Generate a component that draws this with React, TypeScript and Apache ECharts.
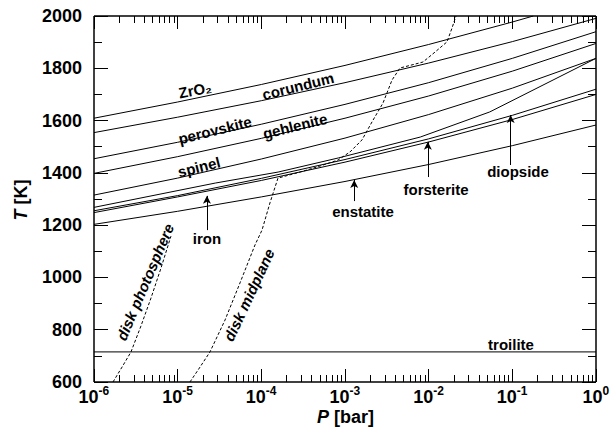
import { useEffect, useRef } from "react";
import * as echarts from "echarts";

const FONT = "'Liberation Sans', Arial, Helvetica, sans-serif";

// Decades of total pressure (bar) used as tick positions
const majorPressures = [1e-6, 1e-5, 1e-4, 1e-3, 1e-2, 1e-1, 1];
const minorMultipliers = [2, 3, 4, 5, 6, 7, 8, 9];
// Temperature ticks (K)
const majorTemps = [600, 800, 1000, 1200, 1400, 1600, 1800, 2000];
const minorTemps = [700, 900, 1100, 1300, 1500, 1700, 1900];

// Condensation curves: log10 P [bar] and temperature [K]
const decadeLogP = [-6, -5, -4, -3, -2, -1, 0];
const zrO2LogP = [-6, -5, -4, -3, -2, -1, -0.75];
const zrO2T = [1609, 1671, 1738, 1811, 1891, 1977, 2000];
const corundumT = [1554, 1613, 1676, 1745, 1820, 1902, 1991];
const perovskiteT = [1454, 1517, 1586, 1662, 1745, 1838, 1940];
const gehleniteT = [1398, 1462, 1532, 1609, 1694, 1789, 1895];
const spinelT = [1315, 1380, 1453, 1533, 1623, 1724, 1838];
const diopsideT = [1255, 1313, 1379, 1451, 1530, 1620, 1720];
const forsteriteT = [1248, 1308, 1371, 1441, 1518, 1604, 1700];
const enstatiteT = [1203, 1253, 1308, 1367, 1432, 1504, 1583];
const ironLogP = [-6, -4.55, -3.8, -3.08, -2.1, -1.27, 0];
const ironT = [1268, 1361, 1403, 1457, 1537, 1633, 1838];
const troiliteLogP = [-6, 0];
const troiliteT = [715, 715];

// Disk P-T profiles
const photosphereLogP = [-5.773, -5.665, -5.558, -5.439, -5.319, -5.199, -5.08];
const photosphereT = [600, 657, 715, 814, 921, 1036, 1158];
const midplaneLogP = [
  -4.853, -4.733, -4.614, -4.434, -4.255, -4.076, -3.992, -3.897, -3.801, -3.538,
  -3.299, -3.084, -2.94, -2.797, -2.677, -2.546, -2.438, -2.343, -2.199, -2.068,
  -1.924, -1.781, -1.721, -1.673,
];
const midplaneT = [
  600, 657, 715, 837, 979, 1124, 1181, 1285, 1380, 1403, 1426, 1449, 1480, 1526,
  1595, 1667, 1755, 1801, 1813, 1824, 1862, 1901, 1954, 2000,
];

// Pointer arrows for labelled minerals
const arrowLogP = [-4.65, -2.89, -2.01, -1.02];
const arrowTipT = [1312, 1373, 1519, 1621];
const arrowTailT = [1181, 1292, 1384, 1430];

const toPoints = (logP: number[], t: number[]) =>
  logP.map((lp, i) => [Math.pow(10, lp), t[i]]);

const minorPressures: number[] = [];
majorPressures.slice(0, -1).forEach((p) =>
  minorMultipliers.forEach((m) => minorPressures.push(p * m))
);

// plot box
const GRID = { left: 94, right: 16, top: 16, bottom: 51 };
const PLOT_W = 612 - GRID.left - GRID.right;
const PLOT_H = 433 - GRID.top - GRID.bottom;
const P_MIN = 1e-6;
const P_MAX = 1;
const T_MIN = 600;
const T_MAX = 2000;
const K_PER_PX = (T_MAX - T_MIN) / PLOT_H;
const DEC_PER_PX = 6 / PLOT_W;
const MAJOR_LEN = 13;
const MINOR_LEN = 7;

const curve = (name: string, data: number[][], dashed = false, extra: any = {}) => ({
  name,
  type: "line",
  data,
  symbol: "none",
  showSymbol: false,
  clip: true,
  lineStyle: { color: "#000", width: 1, type: dashed ? [3, 2] : "solid" },
  z: 3,
  ...extra,
});

const txt = (text: string, x: number, y: number, rotDeg = 0, style: any = {}) => ({
  type: "text",
  x,
  y,
  rotation: (rotDeg * Math.PI) / 180,
  z: 10,
  style: {
    text,
    fontSize: 15,
    fontWeight: "bold",
    fontFamily: FONT,
    fill: "#000",
    align: "center",
    verticalAlign: "middle",
    ...style,
  },
});

// frame and inward ticks as segments in data space
const seg = (a: number[], b: number[], width = 1) => [
  { coord: a, lineStyle: { width, color: "#000", type: "solid" } },
  { coord: b },
];
const pLo = P_MIN * 1.0000001;
const pHi = P_MAX * 0.9999999;
const frameAndTicks: any[] = [
  seg([pLo, T_MIN], [pHi, T_MIN], 1.5),
  seg([pHi, T_MIN], [pHi, T_MAX], 1.5),
  seg([pHi, T_MAX], [pLo, T_MAX], 1.5),
  seg([pLo, T_MAX], [pLo, T_MIN], 1.5),
];
const addPressureTick = (p: number, len: number) => {
  const q = Math.min(Math.max(p, pLo), pHi);
  const dT = len * K_PER_PX;
  frameAndTicks.push(seg([q, T_MIN], [q, T_MIN + dT]), seg([q, T_MAX], [q, T_MAX - dT]));
};
const addTempTick = (t: number, len: number) => {
  const f = Math.pow(10, len * DEC_PER_PX);
  frameAndTicks.push(seg([pLo, t], [pLo * f, t]), seg([pHi, t], [pHi / f, t]));
};
majorPressures.forEach((p) => addPressureTick(p, MAJOR_LEN));
minorPressures.forEach((p) => addPressureTick(p, MINOR_LEN));
majorTemps.forEach((t) => addTempTick(t, MAJOR_LEN + 1));
minorTemps.forEach((t) => addTempTick(t, MINOR_LEN + 1));

export default function App() {
  const ref = useRef<HTMLDivElement>(null);

  useEffect(() => {
    document.body.style.margin = "0";
    if (!ref.current) return;
    const chart = echarts.init(ref.current, null, { renderer: "svg" });

    const arrows = arrowLogP.map((lp, i) => [
      { coord: [Math.pow(10, lp), arrowTailT[i]] },
      { coord: [Math.pow(10, lp), arrowTipT[i]] },
    ]);

    const decadeCurve = (name: string, t: number[]) => curve(name, toPoints(decadeLogP, t));

    const labels = [
      txt("ZrO\u2082", 195, 90, 11),
      txt("corundum", 298, 86, 14),
      txt("perovskite", 215, 130, 14),
      txt("gehlenite", 295, 126, 14),
      txt("spinel", 199, 167, 14),
      txt("iron", 207, 238),
      txt("enstatite", 363, 211),
      txt("forsterite", 436, 189),
      txt("diopside", 518, 171),
      txt("troilite", 511, 344),
      txt("disk photosphere", 145, 282, 67, { fontStyle: "italic" }),
      txt("disk midplane", 249, 295, 65, { fontStyle: "italic" }),
      // axis titles: italic symbol followed by the unit
      txt("T", 21, 215, 90, { fontSize: 18, fontStyle: "italic" }),
      txt("[K]", 21, 192, 90, { fontSize: 18 }),
      txt("P", 317, 417, 0, { fontSize: 18, fontStyle: "italic", align: "left" }),
      txt("[bar]", 334, 417, 0, { fontSize: 18, align: "left" }),
    ];

    chart.setOption({
      animation: false,
      backgroundColor: "#fff",
      grid: { ...GRID },
      xAxis: {
        type: "log",
        logBase: 10,
        min: P_MIN,
        max: P_MAX,
        axisLine: { show: false },
        axisTick: { show: false },
        splitLine: { show: false },
        axisLabel: { show: false },
      },
      yAxis: {
        type: "value",
        min: T_MIN,
        max: T_MAX,
        interval: 200,
        axisLine: { show: false },
        axisTick: { show: false },
        splitLine: { show: false },
        axisLabel: {
          show: true,
          margin: 12,
          fontSize: 18,
          fontWeight: "bold",
          fontFamily: FONT,
          color: "#000",
          formatter: (v: number) => String(v),
        },
      },
      series: [
        curve("ZrO2", toPoints(zrO2LogP, zrO2T)),
        decadeCurve("corundum", corundumT),
        decadeCurve("perovskite", perovskiteT),
        decadeCurve("gehlenite", gehleniteT),
        decadeCurve("spinel", spinelT),
        curve("iron", toPoints(ironLogP, ironT)),
        decadeCurve("diopside", diopsideT),
        decadeCurve("forsterite", forsteriteT),
        curve("enstatite", toPoints(decadeLogP, enstatiteT), false, {
          markLine: {
            silent: true,
            symbol: ["none", "arrow"],
            symbolSize: [6, 8],
            lineStyle: { color: "#000", width: 1, type: "solid" },
            label: { show: false },
            data: arrows,
          },
        }),
        curve("troilite", toPoints(troiliteLogP, troiliteT), false, {
          clip: false,
          lineStyle: { color: "#333", width: 1.2 },
          markLine: {
            silent: true,
            symbol: ["none", "none"],
            lineStyle: { color: "#000", width: 1, type: "solid" },
            label: { show: false },
            data: frameAndTicks,
          },
        }),
        curve("disk photosphere", toPoints(photosphereLogP, photosphereT), true),
        curve("disk midplane", toPoints(midplaneLogP, midplaneT), true),
      ],
      graphic: labels,
    });

    // pressure tick labels: 10 with a raised exponent, placed through the log axis
    try {
      const extras: any[] = [];
      majorPressures.forEach((p) => {
        const [x, yb] = chart.convertToPixel({ xAxisIndex: 0, yAxisIndex: 0 }, [p, T_MIN]) as number[];
        const exp = String(Math.round(Math.log10(p)));
        const split = x + (exp.length > 1 ? 4.5 : 6.5);
        extras.push(
          txt("10", split, yb + 15, 0, { fontSize: 18, align: "right" }),
          txt(exp, split, yb + 9, 0, { fontSize: 12, align: "left" })
        );
      });
      chart.setOption({ graphic: [...labels, ...extras] });
    } catch (e) {
      // labels are decoration only
    }

    return () => chart.dispose();
  }, []);

  return <div ref={ref} style={{ width: 612, height: 433 }} />;
}
